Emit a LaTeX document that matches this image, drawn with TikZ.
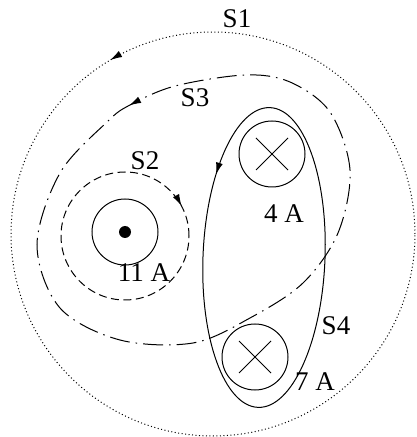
\documentclass[tikz,border=0pt]{standalone}
\usepackage{fontspec}
\setmainfont{Liberation Serif}
\usetikzlibrary{decorations.markings,arrows.meta}
\tikzset{
  >={Latex[length=12pt,width=7pt]},
  curve/.style={line width=1pt},
  wire/.style={draw, circle, minimum size=66pt, inner sep=0pt, line width=1pt},
  lbl/.style={font=\fontsize{27}{30}\selectfont, inner sep=0pt},
  markfwd/.style={postaction={decorate}, decoration={markings, mark=at position #1 with {\arrow{>}}}},
  markrev/.style={postaction={decorate}, decoration={markings, mark=at position #1 with {\arrowreversed{>}}}},
  dots1/.style={line width=1pt, dash pattern=on 1pt off 2.5pt},
  dashdot3/.style={line width=1pt, dash pattern=on 20pt off 6pt on 1.5pt off 6pt},
  dashed2/.style={line width=1pt, dash pattern=on 8pt off 4.5pt},
}
\begin{document}
\begin{tikzpicture}[x=1pt,y=1pt]
\useasboundingbox (0,0) rectangle (417,437);
% S1 dotted circle
\draw[dots1, markfwd=0.335] (213,203) circle[radius=202];
% S2 dashed circle
\draw[dashed2, markrev=0.077] (125,201) circle[radius=64];
% S3 dash-dot closed curve
\draw[dashdot3, markfwd=1pt] plot[smooth cycle, tension=0.55] coordinates {
  (175,351) (130,332) (107,315) (60,264) (37,192) (60,129) (120,97)
  (193,94) (250,119) (303,154) (338,204) (350,267) (330,325) (290,355)
  (245,362)};
% S4 solid ellipse
\draw[curve, markfwd=0.382, rotate around={-2.3:(264,179.5)}] (264,179.5) ellipse[x radius=61, y radius=150];
% wires
\node[wire] (w11) at (125,205) {};
\fill (w11.center) circle[radius=6];
\node[wire] (w4) at (272,283) {};
\draw[curve] ([shift={(-16,-16)}]w4.center) -- ([shift={(16,16)}]w4.center);
\draw[curve] ([shift={(-16,16)}]w4.center) -- ([shift={(16,-16)}]w4.center);
\node[wire] (w7) at (255,80) {};
\draw[curve] ([shift={(-16,-16)}]w7.center) -- ([shift={(16,16)}]w7.center);
\draw[curve] ([shift={(-16,16)}]w7.center) -- ([shift={(16,-16)}]w7.center);
% labels
\node[lbl] (ls1) at (237,418) {S1};
\node[lbl] (ls3) at (195,339) {S3};
\node[lbl] (ls2) at (145,276) {S2};
\node[lbl] (ls4) at (336,111) {S4};
\node[lbl] (l11) at (144,164) {11 A};
\node[lbl] (l4) at (284,223) {4 A};
\node[lbl] (l7) at (315,55) {7 A};
\end{tikzpicture}
\end{document}
